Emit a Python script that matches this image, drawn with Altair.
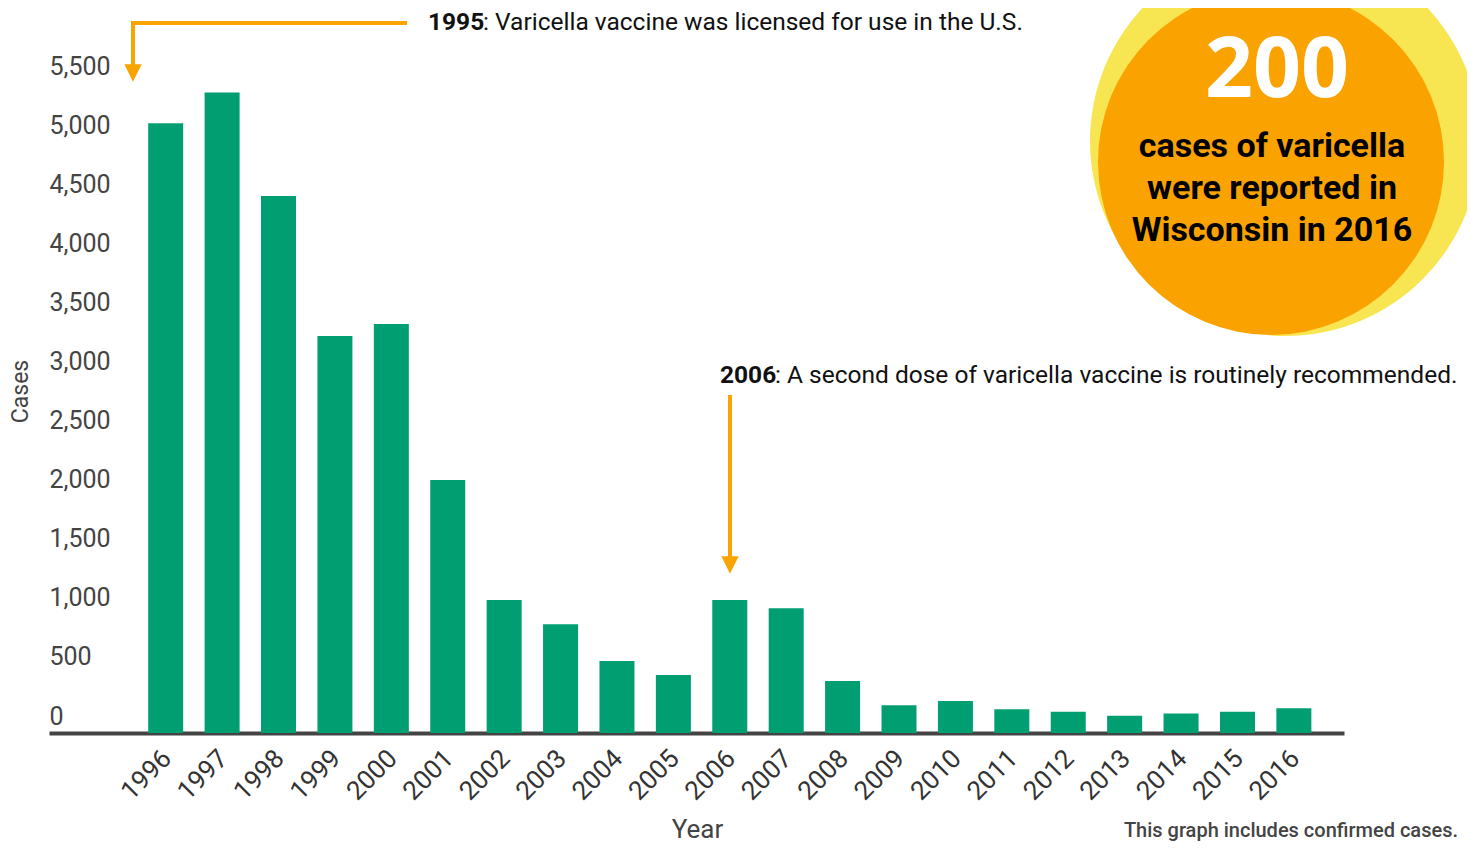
import altair as alt
import pandas as pd

# ---- data ----
years = list(range(1996, 2017))
cases = [5160, 5420, 4545, 3360, 3460, 2140, 1125, 920, 610, 490,
         1125, 1055, 440, 235, 270, 200, 180, 145, 165, 180, 210]
y_ticks = [0, 500, 1000, 1500, 2000, 2500, 3000, 3500, 4000, 4500, 5000, 5500]

note1_year = "1995"
note1_text = ": Varicella vaccine was licensed for use in the U.S."
note2_year = "2006"
note2_text = ": A second dose of varicella vaccine is routinely recommended."
big_number = "200"
big_lines = ["cases of varicella", "were reported in", "Wisconsin in 2016"]
footnote = "This graph includes confirmed cases."

GREEN = "#009E70"
ORANGE = "#F9A400"
CIRCLE_ORANGE = "#F9A200"
YELLOW = "#F7E552"
FONT = "Roboto"

df = pd.DataFrame({"Year": years, "Cases": cases})
one = pd.DataFrame({"k": [0]})

W, H = 1295, 725
x_scale = alt.Scale(domain=[1994.02, 2016.8], nice=False, zero=False)
y_scale = alt.Scale(domain=[0, 6135], nice=False, zero=True)

bars = alt.Chart(df).mark_bar(size=35, color=GREEN).encode(
    x=alt.X("Year:Q", scale=x_scale,
            axis=alt.Axis(values=years, format="d", labelAngle=-45,
                          labelAlign="right", labelBaseline="middle",
                          labelPadding=21, labelOffset=1,
                          labelFlush=False, labelOverlap=False,
                          labelFont=FONT, labelFontSize=26, labelColor="#333333",
                          ticks=False, grid=False, domain=True,
                          domainColor="#444444", domainWidth=4,
                          title="Year", titleFont=FONT, titleFontSize=26,
                          titleFontWeight="normal", titleColor="#444444",
                          titleX=648, titleY=104, titleAlign="center",
                          titleBaseline="alphabetic")),
    y=alt.Y("Cases:Q", scale=y_scale,
            axis=alt.Axis(values=y_ticks, format=",d", labelAlign="left",
                          labelBaseline="alphabetic", labelPadding=0,
                          labelOffset=-9, labelFlush=False,
                          labelFont=FONT, labelFontSize=25, labelColor="#444444",
                          ticks=False, grid=False, domain=False,
                          title="Cases", titleFont=FONT, titleFontSize=23,
                          titleFontWeight="normal", titleColor="#444444",
                          titleX=-22, titleY=383, titleAngle=270,
                          titleAlign="center", titleBaseline="alphabetic")),
)


def vrule(x, y, y2):
    return alt.Chart(one).mark_rule(color=ORANGE, strokeWidth=4).encode(
        x=alt.value(x), y=alt.value(y), y2=alt.value(y2))


def hrule(x, x2, y):
    return alt.Chart(one).mark_rule(color=ORANGE, strokeWidth=4).encode(
        x=alt.value(x), x2=alt.value(x2), y=alt.value(y))


def head(x, y):
    return alt.Chart(one).mark_point(shape="M-1,-1L1,-1L0,1Z", filled=True,
                                     size=300, color=ORANGE, opacity=1,
                                     strokeWidth=0).encode(
        x=alt.value(x), y=alt.value(y))


def text(t, x, y, size=24.5, weight="normal", align="left", color="#111111",
         font=FONT, baseline="alphabetic"):
    return alt.Chart(one).mark_text(text=t, font=font, fontSize=size,
                                    fontWeight=weight, align=align,
                                    baseline=baseline, color=color).encode(
        x=alt.value(x), y=alt.value(y))


def disc(x, y, r, color):
    # Vega circle symbols have diameter sqrt(size)
    return alt.Chart(one).mark_point(shape="circle", filled=True,
                                     size=(2 * r) ** 2, color=color,
                                     opacity=1, strokeWidth=0).encode(
        x=alt.value(x), y=alt.value(y))


layers = [
    bars,
    # 1995 arrow
    hrule(84, 358, 15),
    vrule(84, 13, 60),
    head(84, 65),
    text(note1_year, 379, 22, weight="bold"),
    text(note1_text, 434, 22),
    # 2006 arrow
    vrule(681, 387, 553),
    head(681, 557),
    text(note2_year, 671, 375, weight="bold"),
    text(note2_text, 726, 375),
    # circles
    disc(1236, 133, 195, YELLOW),
    disc(1222, 154, 173, CIRCLE_ORANGE),
    text(big_number, 1228, 89, size=84, weight="bold", align="center",
         color="white", font="Open Sans"),
    text(big_lines[0], 1223, 149, size=34, weight="bold", align="center",
         color="black"),
    text(big_lines[1], 1223, 191, size=34, weight="bold", align="center",
         color="black"),
    text(big_lines[2], 1223, 233, size=34, weight="bold", align="center",
         color="black"),
    text(footnote, 1409, 829, size=20, weight=500, align="right",
         color="#444444"),
]

chart = alt.layer(*layers).properties(
    width=W, height=H,
    autosize=alt.AutoSizeParams(type="none"),
    padding={"left": 41, "top": 0, "right": 123, "bottom": 111},
).configure_view(stroke=None)

chart.save("out.html", embed_options={"renderer": "svg", "actions": False})
